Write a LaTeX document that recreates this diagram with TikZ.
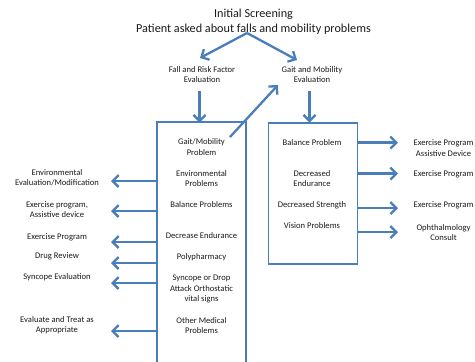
\documentclass[tikz,border=0pt]{standalone}
\usepackage{fontspec}
\setmainfont{Carlito}
\usetikzlibrary{arrows.meta}
\definecolor{lineblue}{HTML}{4A7EBB}
\definecolor{txt}{HTML}{1A1A1A}
\begin{document}
\begin{tikzpicture}[x=1pt,y=-1pt,
  lbl/.style={font=\fontsize{8.6}{10.5}\selectfont, align=center, inner sep=0pt, text=txt},
  ttl/.style={font=\fontsize{12.2}{15}\selectfont, align=center, inner sep=0pt, text=txt},
  arr/.style={draw=lineblue, line width=2.3pt, -{Straight Barb[length=6pt,width=12pt]}},
  boxline/.style={draw=lineblue, line width=1.5pt}]
\useasboundingbox (0,0) rectangle (475,362);
% title
\node[ttl] (title) at (253.5,21.5) {Initial Screening\\Patient asked about falls and mobility problems};
\coordinate (split) at (247,33);
\node[lbl] (fall) at (202,74.5) {Fall and Risk Factor\\Evaluation};
\node[lbl] (gait) at (312,74.5) {Gait and Mobility\\Evaluation};
\coordinate (fallIn) at (200,58);
\coordinate (gaitIn) at (297,60);
\draw[arr] (split) -- (fallIn);
\draw[arr] (split) -- (gaitIn);
% left box (open at bottom)
\coordinate (lbBL) at (157,366);
\coordinate (lbTL) at (157,122);
\coordinate (lbTR) at (246,122);
\coordinate (lbBR) at (246,366);
\draw[boxline] (lbBL) -- (lbTL) -- (lbTR) -- (lbBR);
% right box
\node[boxline, rectangle, minimum width=89pt, minimum height=141pt, anchor=north west, inner sep=0pt] (rbox) at (267.5,122) {};
% down arrows
\coordinate (fallOut) at (199.5,91);
\coordinate (lbIn) at (199.5,122.5);
\draw[arr] (fallOut) -- (lbIn);
\coordinate (gaitOut) at (309.5,91);
\coordinate (rbIn) at (309.5,122.5);
\draw[arr] (gaitOut) -- (rbIn);
% diagonal arrow
\coordinate (gmStart) at (230,137);
\coordinate (gmEnd) at (278,85);
\draw[arr] (gmStart) -- (gmEnd);
% left box contents
\node[lbl] (l1) at (201.5,147) {Gait/Mobility\\Problem};
\node[lbl] (l2) at (201.5,178.5) {Environmental\\Problems};
\node[lbl] (l3) at (201.5,205) {Balance Problems};
\node[lbl] (l4) at (201.5,236) {Decrease Endurance};
\node[lbl] (l5) at (201.5,257) {Polypharmacy};
\node[lbl] (l6) at (201.5,289) {Syncope or Drop\\Attack Orthostatic\\vital signs};
\node[lbl] (l7) at (201.5,325.5) {Other Medical\\Problems};
% left outcomes
\node[lbl] (o2) at (57,177.5) {Environmental\\Evaluation/Modification};
\node[lbl] (o3) at (57,209.5) {Exercise program,\\Assistive device};
\node[lbl] (o4) at (57,237) {Exercise Program};
\node[lbl] (o5) at (57,256) {Drug Review};
\node[lbl] (o6) at (57,277) {Syncope Evaluation};
\node[lbl] (o7) at (57,325) {Evaluate and Treat as\\Appropriate};
\foreach \n/\y in {a/181,b/211,c/242,d/263,e/283,f/331}{
  \coordinate (ls\n) at (157,\y);
  \coordinate (le\n) at (111,\y);
  \draw[arr] (ls\n) -- (le\n);
}
% right box contents
\node[lbl] (r1) at (312,142.5) {Balance Problem};
\node[lbl] (r2) at (312,178.5) {Decreased\\Endurance};
\node[lbl] (r3) at (312,205) {Decreased Strength};
\node[lbl] (r4) at (312,226) {Vision Problems};
% right outcomes
\node[lbl] (p1) at (443.5,148) {Exercise Program\\Assistive Device};
\node[lbl] (p2) at (443.5,174) {Exercise Program};
\node[lbl] (p3) at (443.5,205) {Exercise Program};
\node[lbl] (p4) at (443.5,232.5) {Ophthalmology\\Consult};
\foreach \n/\y in {a/142.5,b/173.5,c/208,d/232}{
  \coordinate (rs\n) at (357,\y);
  \coordinate (re\n) at (398,\y);
  \draw[arr] (rs\n) -- (re\n);
}
\end{tikzpicture}
\end{document}
